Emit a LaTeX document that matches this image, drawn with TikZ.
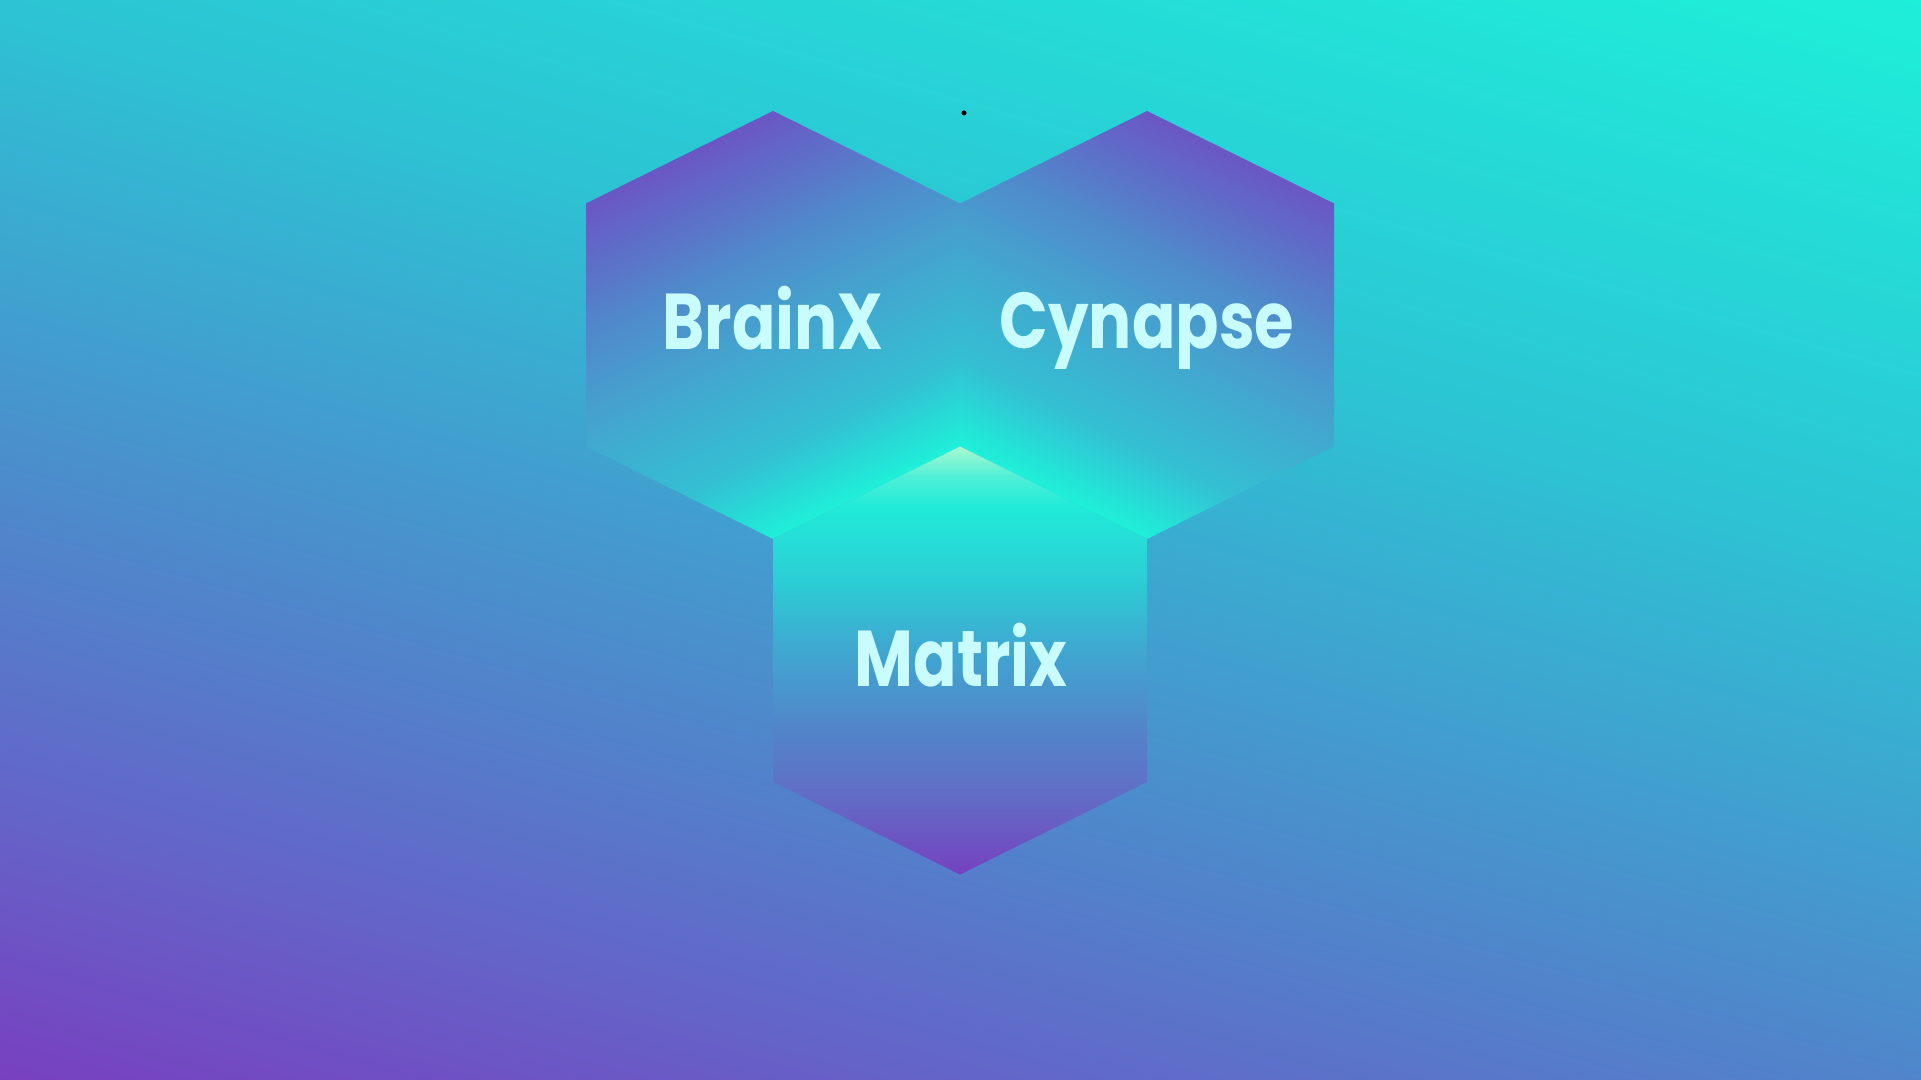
\documentclass[tikz,border=0pt]{standalone}
\usepackage{fontspec}
\usepackage{xcolor}
\usepackage{tikz}
\newfontfamily\hexfont{Poppins}[FakeStretch=0.81]

\definecolor{bgcyan}{HTML}{1EEFD9}
\definecolor{bgteal}{HTML}{2CC4D4}
\definecolor{bgblue}{HTML}{5085CB}
\definecolor{bgviolet}{HTML}{6464C8}
\definecolor{bgpurple}{HTML}{7840C0}
\definecolor{hexcyan}{HTML}{1EF0D8}
\definecolor{hexteal}{HTML}{33C0D3}
\definecolor{hexblue}{HTML}{45A2CE}
\definecolor{hexsky}{HTML}{5088CB}
\definecolor{hexpurple}{HTML}{6B56C5}
\definecolor{mxpurple}{HTML}{7541C0}
\definecolor{mxviolet}{HTML}{6070C6}
\definecolor{mxblue}{HTML}{5088CA}
\definecolor{mxsky}{HTML}{40A6D0}
\definecolor{mxteal}{HTML}{2CCCD4}
\definecolor{mxcyan}{HTML}{20EAD8}
\definecolor{mxaqua}{HTML}{50F0D6}
\definecolor{mxmint}{HTML}{A8F8D0}
\definecolor{labelcyan}{HTML}{C8FCFF}

\pgfdeclareverticalshading{bgshade}{100bp}{color(0bp)=(bgpurple); color(25bp)=(bgpurple); color(33.4bp)=(bgviolet); color(41.8bp)=(bgblue); color(58.1bp)=(bgteal); color(75bp)=(bgcyan); color(100bp)=(bgcyan)}
\pgfdeclareverticalshading{hexshade}{100bp}{color(0bp)=(hexcyan); color(25bp)=(hexcyan); color(35bp)=(hexteal); color(50bp)=(hexblue); color(60bp)=(hexsky); color(75bp)=(hexpurple); color(100bp)=(hexpurple)}
\pgfdeclareverticalshading{matrixshade}{100bp}{color(0bp)=(mxpurple); color(25bp)=(mxpurple); color(35bp)=(mxviolet); color(43bp)=(mxblue); color(51bp)=(mxsky); color(59bp)=(mxteal); color(68bp)=(mxcyan); color(71.5bp)=(mxaqua); color(75bp)=(mxmint); color(100bp)=(mxmint)}

\def\hexpath#1#2{(#1,#2+214) -- ++(187,-92.5) -- ++(0,-243) -- ++(-187,-92.5) -- ++(-187,92.5) -- ++(0,243) -- cycle}

\begin{document}
\begin{tikzpicture}[x=0.01cm, y=0.01cm, hexlabel/.style={font=\hexfont\bfseries\fontsize{22.5}{27}\selectfont, text=labelcyan, inner sep=0pt, anchor=base}]
\useasboundingbox (0,0) rectangle (1921,1080);
% background
\begin{scope}
\clip (0,0) rectangle (1921,1080);
\begin{scope}[transform canvas={rotate around={-16:(960.5,540)}}]
\shade[shading=bgshade] (960.5,540) +(-1100,-784) rectangle +(1100,784);
\end{scope}
\end{scope}
% upper hexagons
\begin{scope}
\clip \hexpath{773}{755};
\begin{scope}[transform canvas={rotate around={26.4:(773,755)}}]
\shade[shading=hexshade] (773,755) +(-230,-192) rectangle +(230,192);
\end{scope}
\end{scope}
\begin{scope}
\clip \hexpath{1147}{755};
\begin{scope}[transform canvas={rotate around={-26.4:(1147,755)}}]
\shade[shading=hexshade] (1147,755) +(-230,-192) rectangle +(230,192);
\end{scope}
\end{scope}
% lower hexagon
\shade[shading=matrixshade] \hexpath{960}{419.5};
\fill (964,967) circle (2.5);
\node[hexlabel] (brainx) at (773,730) {BrainX};
\node[hexlabel] (cynapse) at (1147,731) {Cynapse};
\node[hexlabel] (matrix) at (961,393) {Matrix};
\end{tikzpicture}
\end{document}
